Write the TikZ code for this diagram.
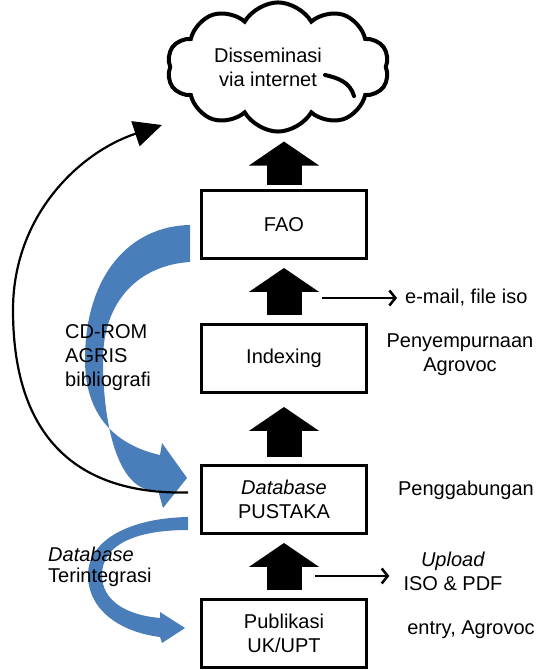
\documentclass[tikz,border=0pt]{standalone}
\usepackage{fontspec}
\setmainfont{Liberation Sans}
\usetikzlibrary{shapes.symbols,arrows.meta,positioning,calc}

\definecolor{flowblue}{RGB}{74,126,187}

\begin{document}
\begin{tikzpicture}[x=1pt, y=1pt,
  font=\fontsize{20}{24}\selectfont,
  node distance=63pt,
  stage/.style={rectangle, draw=black, line width=3pt, fill=white,
                align=center, inner sep=2pt,
                minimum width=165pt, minimum height=68pt},
  web/.style  ={cloud, cloud puffs=10, cloud puff arc=120, aspect=1.9,
                draw=black, line width=4pt, align=center,
                minimum width=222pt, minimum height=120pt},
  note/.style ={align=center, inner sep=2pt},
  bigup/.style={line width=35pt, shorten <=8pt, shorten >=8pt,
                -{Triangle[length=24pt, width=70pt, line width=1.5pt]}},
  side/.style ={line width=2.5pt, -{Straight Barb[length=6pt, width=15pt]}},
  loop/.style ={line width=2.2pt, -{Triangle[length=28pt, width=26pt]}},
  band/.style ={fill=flowblue, draw=none},
]
\useasboundingbox (0,0) rectangle (545,670);

% === Flow ===
\node[web] (net) at (278,603) {Disseminasi\hspace*{20pt}\\via internet\hspace*{20pt}};
\node[stage] (fao) at (284,445.5) {FAO};
\node[stage, below=of fao] (idx) {Indexing};
\node[stage, below=70pt of idx] (db) {\textit{Database}\\PUSTAKA};
\node[stage, below=of db] (pub) {Publikasi\\UK/UPT};

% cloud fold
\draw[line width=4pt, line cap=round] (325,595) .. controls (338,592) and (350,588) .. (354,574);

% === Block arrows ===
\draw[bigup, shorten <=4pt, shorten >=8pt] (fao.north) -- (fao.north |- net.south);
\draw[bigup] (idx) -- (fao);
\draw[bigup, shorten <=7pt, shorten >=13pt] (db) -- (idx);
\draw[bigup] (pub) -- (db);

% === Blue bands ===
\fill[band] (190,445) .. controls (130,444) and (85,395) .. (85,310)
  .. controls (85,255) and (115,225) .. (160,215) -- (162,227) -- (187,192)
  -- (163,162) -- (158,180) .. controls (120,175) and (103,240) .. (103,310)
  .. controls (103,370) and (140,405) .. (190,408) -- cycle;
\fill[band] (188,153) .. controls (130,152) and (88,130) .. (88,95)
  .. controls (88,60) and (120,38) .. (160,33) -- (162,27) -- (185,42)
  -- (160,58) -- (160,52) .. controls (125,55) and (102,70) .. (102,95)
  .. controls (102,125) and (135,140) .. (188,140) -- cycle;

% === Loop back to the web ===
\coordinate (webfoot) at (162,545);
\draw[loop] ([shift={(-12pt,7pt)}]db.west) .. controls (70,175) and (13,240) .. (13,360)
  .. controls (13,455) and (80,518) .. (webfoot);

% === Side notes ===
\node[note, anchor=west] (mail) at (403,372) {e-mail, file iso};
\coordinate (mailfrom) at ($(idx.north)+(38,25)$);
\draw[side, shorten >=6pt] (mailfrom) -- (mail.west |- mailfrom);

\node[note] (fix) at (460,315) {Penyempurnaan\\Agrovoc};
\node[note] (merge) at (466,180) {Penggabungan};

\node[note] (upl) at (453,98.5) {\textit{Upload}\\ISO \& PDF};
\coordinate (upfrom) at ($(db.south)+(31,-41)$);
\draw[side, shorten >=12pt] (upfrom) -- (upl.west |- upfrom);

\node[note] (entry) at (471,40) {entry, Agrovoc};

\node[note, align=left, anchor=west] (cdrom) at (63,312) {CD-ROM\\AGRIS\\bibliografi};
\node[note, align=left, anchor=west, font=\fontsize{20}{21}\selectfont] (integ) at (46,103)
  {\textit{Database}\\Terintegrasi};

\end{tikzpicture}
\end{document}
